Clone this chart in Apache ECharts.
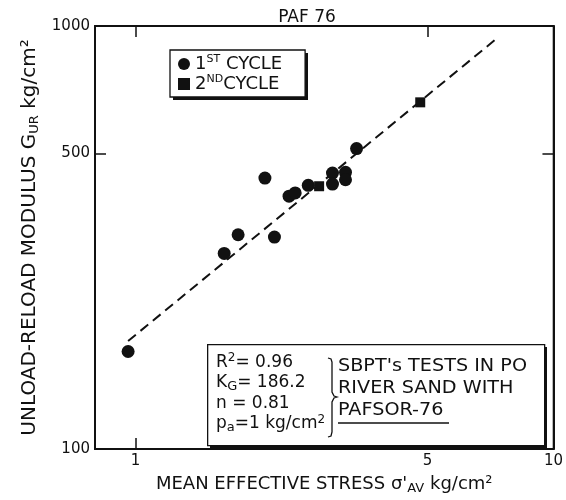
<!DOCTYPE html>
<html>
<head>
<meta charset="utf-8">
<script src="https://cdn.jsdelivr.net/npm/echarts@6/dist/echarts.min.js"></script>
<style>
  html, body { margin: 0; padding: 0; background: #fff; }
  #main { width: 566px; height: 500px; }
</style>
</head>
<body>
<div id="main"></div>
<script>
// 数据：第一、第二加载循环（σ'AV kg/cm², G_UR kg/cm²）
var cycle1X = [0.96, 1.63, 1.76, 2.04, 2.15, 2.33, 2.41, 2.59, 2.96, 2.96, 3.18, 3.18, 3.38];
var cycle1Y = [170, 290, 321, 437, 317, 396, 403, 420, 449, 423, 451, 433, 513];
var cycle2X = [2.75, 4.80];
var cycle2Y = [418, 660];
// 拟合直线两端
var fitX = [0.96, 7.4];
var fitY = [180, 943];
// 刻度
var xTicks = [1, 5, 10];
var yTicks = [100, 500, 1000];

function pairs(xs, ys) {
    return xs.map(function (x, i) { return [x, ys[i]]; });
}

var FONT = 'DejaVu Sans';
var supSub = {
    sup: { fontSize: 11, fontFamily: FONT, color: '#111', verticalAlign: 'top', padding: [0, 0, 8, 0] },
    sub: { fontSize: 13, fontFamily: FONT, color: '#111', verticalAlign: 'bottom', padding: [9, 0, 0, 0] }
};

var myChart = echarts.init(document.getElementById('main'));

var axisCommon = {
    axisLine: { show: true, lineStyle: { color: '#111', width: 2 } },
    axisTick: { show: true, inside: true, length: 11, lineStyle: { color: '#111', width: 1.5 } },
    splitLine: { show: false },
    minorTick: { show: false }
};

var option = {
    backgroundColor: '#fff',
    title: {
        text: 'PAF 76',
        left: 302,
        textAlign: 'center',
        top: 4,
        textStyle: { fontFamily: FONT, fontSize: 17, fontWeight: 'normal', color: '#111' }
    },
    grid: {
        left: 95, right: 8, top: 26, bottom: 46,
        show: true, borderColor: '#111', borderWidth: 1.5, backgroundColor: 'transparent'
    },
    legend: {
        orient: 'vertical',
        left: 170, top: 50,
        padding: [4, 23, 3, 8],
        itemGap: 0,
        itemWidth: 12, itemHeight: 12,
        backgroundColor: '#fff',
        borderColor: '#111', borderWidth: 1.3,
        data: [{ name: '1ST CYCLE', icon: 'circle' }, { name: '2ND CYCLE', icon: 'rect' }],
        formatter: function (name) {
            return name === '1ST CYCLE' ? '1{sup|ST} CYCLE' : '2{sup|ND}CYCLE';
        },
        textStyle: {
            fontFamily: FONT, fontSize: 18, color: '#111', lineHeight: 20,
            rich: {
                sup: { fontSize: 11, fontFamily: FONT, color: '#111', verticalAlign: 'top', padding: [0, 0, 8, 0] }
            }
        }
    },
    xAxis: [
        Object.assign({}, axisCommon, {
            type: 'log', logBase: 10, min: 0.8, max: 10,
            position: 'bottom',
            name: "MEAN EFFECTIVE STRESS σ'{sub|AV} kg/cm²",
            nameLocation: 'middle', nameGap: 24,
            nameTextStyle: { fontFamily: FONT, fontSize: 18, color: '#111', rich: supSub },
            axisTick: Object.assign({}, axisCommon.axisTick, { customValues: xTicks }),
            axisLabel: {
                customValues: xTicks, margin: 5,
                fontFamily: FONT, fontSize: 15, color: '#111',
                formatter: function (v) { return String(Math.round(v)); }
            }
        }),
        Object.assign({}, axisCommon, {
            type: 'log', logBase: 10, min: 0.8, max: 10,
            position: 'top',
            axisTick: Object.assign({}, axisCommon.axisTick, { customValues: xTicks }),
            axisLabel: { show: false }
        })
    ],
    yAxis: [
        Object.assign({}, axisCommon, {
            type: 'log', logBase: 10, min: 100, max: 1000,
            position: 'left',
            name: 'UNLOAD-RELOAD MODULUS G{sub|UR} kg/cm²',
            nameLocation: 'middle', nameGap: 46,
            nameTextStyle: { fontFamily: FONT, fontSize: 20, color: '#111', rich: supSub },
            axisTick: Object.assign({}, axisCommon.axisTick, { customValues: yTicks }),
            axisLabel: {
                customValues: yTicks, margin: 5,
                fontFamily: FONT, fontSize: 15, color: '#111',
                formatter: function (v) { return String(Math.round(v)); }
            }
        }),
        Object.assign({}, axisCommon, {
            type: 'log', logBase: 10, min: 100, max: 1000,
            position: 'right',
            axisTick: Object.assign({}, axisCommon.axisTick, { customValues: yTicks }),
            axisLabel: { show: false }
        })
    ],
    series: [
        {
            name: 'fit',
            type: 'line',
            data: pairs(fitX, fitY),
            symbol: 'none',
            silent: true,
            lineStyle: { color: '#111', width: 2, type: [10, 6] },
            z: 1
        },
        {
            name: '1ST CYCLE',
            type: 'scatter',
            data: pairs(cycle1X, cycle1Y),
            symbol: 'circle',
            symbolSize: 13,
            itemStyle: { color: '#111', opacity: 1 },
            z: 3
        },
        {
            name: '2ND CYCLE',
            type: 'scatter',
            data: pairs(cycle2X, cycle2Y),
            symbol: 'rect',
            symbolSize: 10,
            itemStyle: { color: '#111', opacity: 1 },
            z: 3
        }
    ],
    graphic: [
        // 图例阴影
        {
            type: 'rect', left: 173, top: 53, z: 3,
            shape: { width: 135, height: 47 },
            style: { fill: '#111' }
        },
        // 注释框（阴影 + 白底）
        {
            type: 'rect', left: 210, top: 347, z: 10,
            shape: { width: 337, height: 101 },
            style: { fill: '#111' }
        },
        {
            type: 'rect', left: 207, top: 344, z: 11,
            shape: { width: 337, height: 101 },
            style: { fill: '#fff', stroke: '#111', lineWidth: 1.3 }
        },
        {
            type: 'text', x: 216, y: 352, z: 12,
            style: {
                text: 'R{sup|2}= 0.96\nK{sub|G}= 186.2\nn = 0.81\np{sub|a}=1 kg/cm{sup|2}',
                fontFamily: FONT, fontSize: 17, lineHeight: 20.5, fill: '#111',
                rich: {
                    sup: { fontSize: 12, fontFamily: FONT, verticalAlign: 'top', padding: [0, 0, 8, 0], lineHeight: 20.5 },
                    sub: { fontSize: 13, fontFamily: FONT, verticalAlign: 'bottom', padding: [7, 0, 0, 0], lineHeight: 20.5 }
                }
            }
        },
        {
            // 大括号
            type: 'polyline', z: 12,
            shape: {
                points: [[328, 358], [331, 359], [332, 362], [332, 392], [334, 396], [337, 397],
                         [334, 398], [332, 402], [332, 432], [331, 436], [328, 437]]
            },
            style: { fill: 'none', stroke: '#111', lineWidth: 1.3 }
        },
        {
            type: 'text', x: 338, y: 356, z: 12, scaleX: 1.13,
            style: {
                text: "SBPT's TESTS IN PO\nRIVER SAND WITH\nPAFSOR-76",
                fontFamily: FONT, fontSize: 17, lineHeight: 22, fill: '#111'
            }
        },
        {
            type: 'line', z: 12,
            shape: { x1: 338, y1: 423, x2: 449, y2: 423 },
            style: { stroke: '#111', lineWidth: 1.3 }
        }
    ]
};

myChart.setOption(option);
</script>
</body>
</html>
